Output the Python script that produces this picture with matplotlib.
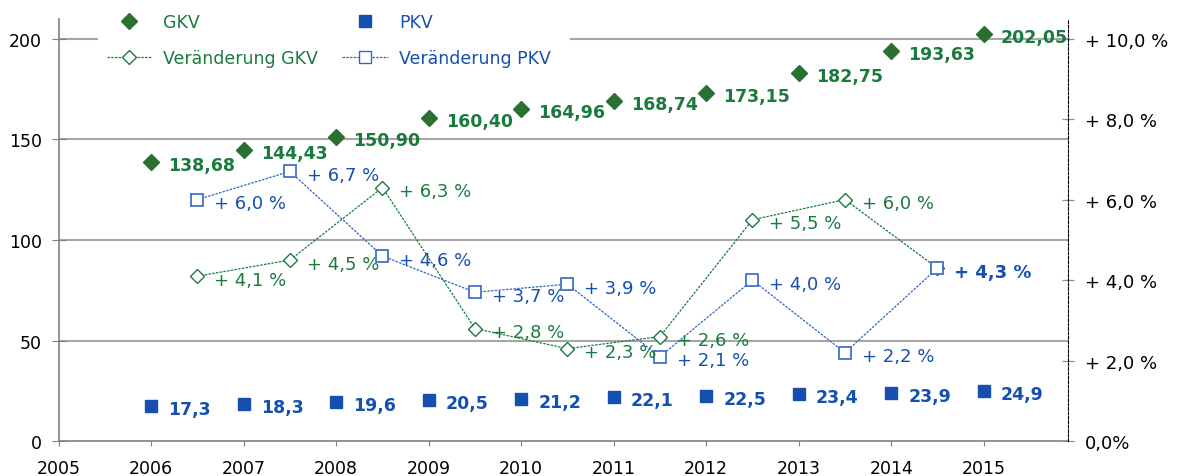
import matplotlib
matplotlib.use("Agg")
import matplotlib.pyplot as plt
from matplotlib.lines import Line2D

years = [2006, 2007, 2008, 2009, 2010, 2011, 2012, 2013, 2014, 2015]
gkv = [138.68, 144.43, 150.90, 160.40, 164.96, 168.74, 173.15, 182.75, 193.63, 202.05]
pkv = [17.3, 18.3, 19.6, 20.5, 21.2, 22.1, 22.5, 23.4, 23.9, 24.9]
chg_x = [2006.5, 2007.5, 2008.5, 2009.5, 2010.5, 2011.5, 2012.5, 2013.5, 2014.5]
chg_gkv = [4.1, 4.5, 6.3, 2.8, 2.3, 2.6, 5.5, 6.0, 4.3]
chg_pkv = [6.0, 6.7, 4.6, 3.7, 3.9, 2.1, 4.0, 2.2, 4.3]
x_ticks = [2005, 2006, 2007, 2008, 2009, 2010, 2011, 2012, 2013, 2014, 2015]
left_ticks = [0, 50, 100, 150, 200]
right_ticks = [0, 2, 4, 6, 8, 10]
right_labels = ["0,0%", "+ 2,0 %", "+ 4,0 %", "+ 6,0 %", "+ 8,0 %", "+ 10,0 %"]

GREEN = "#2a7033"
GREEN_T = "#1b7a3e"
BLUE = "#1550b0"
BLUE_L = "#3366c6"
GRID = "#a6a6a6"

plt.rcParams['font.family'] = ['DejaVu Sans']
W, H = 1178, 477
L, R, B, T = 58.7, 1068.5, 442.3, 20.0
fig = plt.figure(figsize=(W/100, H/100), dpi=100)
ax = fig.add_axes([L/W, 1-B/H, (R-L)/W, (B-T)/H])
ymax = (B - T) / 2.014
xmax = 2005 + (R - L) / 92.5
ax.set_xlim(2005, xmax)
ax.set_ylim(0, ymax)

for v in [50, 100, 150]:
    ax.axhline(v, color=GRID, lw=1.5, zorder=0)
# 200 gridline interrupted by the legend area
ax.axhline(200, xmin=0, xmax=(97-L)/(R-L), color=GRID, lw=1.5, zorder=0)
ax.axhline(200, xmin=(571-L)/(R-L), xmax=1, color=GRID, lw=1.5, zorder=0)

for s in ['top', 'right']:
    ax.spines[s].set_visible(False)
for s in ['left', 'bottom']:
    ax.spines[s].set_color('#808080')
    ax.spines[s].set_linewidth(1.2)
ax.set_xticks(x_ticks)
ax.set_xticklabels([str(x) for x in x_ticks])
ax.set_yticks(left_ticks)
ax.tick_params(axis='x', direction='out', length=3.5, color='#808080', labelsize=12.5, pad=9.5)
ax.tick_params(axis='y', direction='inout', length=10, color='#808080', labelsize=12.5, pad=7)

ax2 = ax.twinx()
ax2.set_ylim(0, ymax/20)
for s in ['top', 'left', 'bottom']:
    ax2.spines[s].set_visible(False)
ax2.spines['right'].set_linestyle((0, (2.5, 1.5)))
ax2.spines['right'].set_linewidth(0.8)
ax2.spines['right'].set_color('black')
ax2.set_yticks(right_ticks)
ax2.set_yticklabels(right_labels)
ax2.tick_params(axis='y', direction='inout', length=8, color='#909090', width=0.9, labelsize=13, pad=8)

# change lines
ax2.plot(chg_x, chg_gkv, linestyle=(0, (2, 1)), lw=0.9, color=GREEN_T,
         marker='D', markersize=7.5, markerfacecolor='white', markeredgecolor=GREEN_T, markeredgewidth=1.0, zorder=3)
ax2.plot(chg_x, chg_pkv, linestyle=(0, (2, 1)), lw=0.9, color=BLUE_L,
         marker='s', markersize=8.5, markerfacecolor='white', markeredgecolor=BLUE_L, markeredgewidth=1.2, zorder=4)

ax2.plot(years, [g/20 for g in gkv], linestyle='none', marker='D', markersize=8, color=GREEN, zorder=5)
ax2.plot(years, [p/20 for p in pkv], linestyle='none', marker='s', markersize=8.5, color=BLUE, zorder=5)

def fmt(v, nd):
    return f"{v:.{nd}f}".replace('.', ',')

for x, v in zip(years, gkv):
    ax2.annotate(fmt(v, 2), (x, v/20), xytext=(17, -3), textcoords='offset pixels',
                 ha='left', va='center', fontsize=12.5, fontweight='bold', color=GREEN_T, zorder=6)
for x, v in zip(years, pkv):
    ax2.annotate(fmt(v, 1), (x, v/20), xytext=(17, -3), textcoords='offset pixels',
                 ha='left', va='center', fontsize=12.5, fontweight='bold', color=BLUE, zorder=6)
for i, (x, v) in enumerate(zip(chg_x, chg_gkv)):
    if i == len(chg_x) - 1:
        continue
    ax2.annotate("+ " + fmt(v, 1) + " %", (x, v), xytext=(17, -3.5), textcoords='offset pixels',
                 ha='left', va='center', fontsize=13, color=GREEN_T, zorder=6)
for i, (x, v) in enumerate(zip(chg_x, chg_pkv)):
    bold = i == len(chg_x) - 1
    ax2.annotate("+ " + fmt(v, 1) + " %", (x, v), xytext=(17, -3.5), textcoords='offset pixels',
                 ha='left', va='center', fontsize=13, color=BLUE,
                 fontweight='bold' if bold else 'normal', zorder=6)

handles = [
    Line2D([], [], linestyle='none', marker='D', markersize=8, color=GREEN),
    Line2D([], [], linestyle=(0, (2, 1)), lw=0.9, color=GREEN_T, marker='D', markersize=7.5,
           markerfacecolor='white', markeredgecolor=GREEN_T),
    Line2D([], [], linestyle='none', marker='s', markersize=8, color=BLUE),
    Line2D([], [], linestyle=(0, (2, 1)), lw=0.9, color=BLUE_L, marker='s', markersize=8,
           markerfacecolor='white', markeredgecolor=BLUE_L),
]
labels = ["GKV", "Veränderung GKV", "PKV", "Veränderung PKV"]
leg = fig.legend(handles, labels, ncol=2, loc='upper left', bbox_to_anchor=(93/W, 1.0),
                 frameon=False, fontsize=12.5, labelspacing=1.03, columnspacing=1.4,
                 handlelength=2.6, handletextpad=0.65, borderpad=0.3)
for t, c in zip(leg.get_texts(), [GREEN_T, GREEN_T, BLUE, BLUE]):
    t.set_color(c)

fig.savefig("out.png", dpi=100)
